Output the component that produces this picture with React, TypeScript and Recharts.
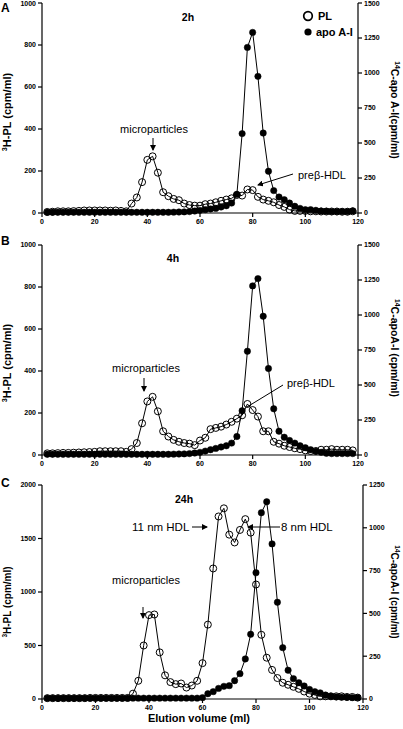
import React from "react";
import { ComposedChart, Line, XAxis, YAxis, Legend } from "recharts";

// elution volume of each fraction (ml)
const volumes = [
  2, 4, 6, 8, 10, 12, 14, 16, 18, 20, 22, 24, 26, 28, 30, 32, 34, 36, 38, 40,
  42, 44, 46, 48, 50, 52, 54, 56, 58, 60, 62, 64, 66, 68, 70, 72, 74, 76, 78, 80,
  82, 84, 86, 88, 90, 92, 94, 96, 98, 100, 102, 104, 106, 108, 110, 112, 114, 116, 118,
];

// panel A - 2h
const pl2h = [
  5, 6, 8, 8, 8, 9, 10, 12, 12, 12, 12, 12, 11, 12, 10, 8, 45, 74, 147, 253,
  270, 192, 99, 80, 67, 61, 45, 38, 35, 35, 42, 45, 51, 58, 64, 70, 86, 83, 112, 109,
  77, 64, 58, 51, 38, 29, 16, 10, 10, 10, 8, 8, 7, 7, 7, 7, 6, 6, 8,
];
const apo2h = [
  5, 5, 5, 5, 5, 5, 5, 5, 5, 5, 5, 5, 5, 5, 5, 5, 5, 5, 5, 5,
  5, 5, 5, 5, 6, 7, 8, 10, 14, 19, 24, 29, 33, 43, 52, 71, 133, 567, 1183, 1290,
  976, 571, 298, 160, 114, 95, 71, 48, 33, 24, 24, 19, 14, 12, 10, 10, 10, 10, 15,
];

// panel B - 4h
const pl4h = [
  8, 8, 9, 10, 10, 11, 12, 13, 14, 15, 18, 18, 18, 18, 18, 15, 28, 57, 151, 255,
  277, 208, 113, 88, 72, 63, 57, 54, 47, 69, 82, 123, 129, 135, 145, 158, 173, 189, 243, 214,
  183, 113, 113, 63, 54, 44, 38, 32, 28, 22, 19, 19, 25, 25, 28, 25, 25, 25, 22,
];
const apo4h = [
  5, 5, 5, 5, 5, 5, 5, 5, 5, 5, 5, 5, 5, 5, 5, 5, 5, 5, 5, 5,
  5, 5, 5, 5, 6, 7, 8, 10, 14, 19, 28, 38, 47, 57, 66, 85, 132, 316, 741, 1208,
  1260, 991, 618, 330, 170, 127, 104, 85, 66, 52, 38, 28, 19, 12, 10, 10, 10, 10, 10,
];

// panel C - 24h
const pl24h = [
  8, 8, 8, 8, 8, 8, 8, 8, 10, 10, 10, 10, 10, 10, 10, 10, 50, 170, 500, 784,
  790, 436, 221, 158, 139, 145, 107, 126, 170, 335, 695, 1220, 1706, 1782, 1536, 1463, 1580, 1681, 1555, 1070,
  600, 386, 272, 196, 152, 133, 114, 95, 70, 50, 38, 25, 25, 25, 25, 25, 19, 19, 13,
];
const apo24h = [
  5, 5, 5, 5, 5, 5, 5, 5, 5, 5, 5, 5, 5, 5, 5, 5, 5, 5, 5, 5,
  5, 5, 5, 5, 5, 5, 5, 5, 5, 8, 31, 43, 62, 74, 78, 107, 148, 234, 378, 738,
  1088, 1152, 906, 565, 300, 168, 119, 95, 76, 56, 43, 36, 23, 16, 12, 10, 10, 8, 8,
];

const xTicks = [0, 20, 40, 60, 80, 100, 120];
const plTicksAB = [0, 200, 400, 600, 800, 1000];
const apoTicksAB = [0, 250, 500, 750, 1000, 1250, 1500];
const plTicksC = [0, 500, 1000, 1500, 2000];
const apoTicksC = [0, 250, 500, 750, 1000, 1250];

type Row = { vol: number; pl: number; apo: number };

const rows = (pl: number[], apo: number[]): Row[] =>
  volumes.map((v, i) => ({ vol: v, pl: pl[i], apo: apo[i] }));

const tickStyle = { fontSize: 7, fontWeight: "bold", fill: "#000" };

function LegendBox() {
  return (
    <div style={{ fontSize: 11, fontWeight: "bold", color: "#000" }}>
      <div style={{ display: "flex", alignItems: "center", height: 16 }}>
        <svg width={14} height={14}>
          <circle cx={7} cy={7} r={4.3} fill="none" stroke="#000" strokeWidth={1.7} />
        </svg>
        <span style={{ marginLeft: 3 }}>PL</span>
      </div>
      <div style={{ display: "flex", alignItems: "center", height: 16 }}>
        <svg width={14} height={14}>
          <circle cx={7} cy={7} r={3.6} fill="#000" />
        </svg>
        <span style={{ marginLeft: 1 }}>apo A-I</span>
      </div>
    </div>
  );
}

type PanelProps = {
  data: Row[];
  top: number;
  height: number;
  marginTop: number;
  xAxisHeight: number;
  rightWidth: number;
  plDomain: [number, number];
  plTicks: number[];
  apoDomain: [number, number];
  apoTicks: number[];
  legend?: boolean;
  children?: React.ReactNode;
};

function Panel(p: PanelProps) {
  return (
    <div style={{ position: "absolute", left: 0, top: p.top, width: 403, height: p.height }}>
      <ComposedChart
        width={403}
        height={p.height}
        data={p.data}
        margin={{ top: p.marginTop, right: 0, bottom: 0, left: 0 }}
      >
        <XAxis
          dataKey="vol"
          type="number"
          domain={[0, 120]}
          ticks={xTicks}
          height={p.xAxisHeight}
          stroke="#000"
          strokeWidth={1.2}
          tickSize={4}
          tick={tickStyle}
          interval={0}
        />
        <YAxis
          yAxisId="pl"
          domain={p.plDomain}
          ticks={p.plTicks}
          width={42}
          stroke="#000"
          strokeWidth={1.2}
          tickSize={4}
          tick={tickStyle}
          interval={0}
        />
        <YAxis
          yAxisId="apo"
          orientation="right"
          domain={p.apoDomain}
          ticks={p.apoTicks}
          width={p.rightWidth}
          stroke="#000"
          strokeWidth={1.2}
          tickSize={4}
          tick={tickStyle}
          interval={0}
        />
        {p.legend && (
          <Legend
            layout="vertical"
            align="center"
            verticalAlign="middle"
            wrapperStyle={{ top: 8, left: 301, width: 80 }}
            content={() => <LegendBox />}
          />
        )}
        <Line
          yAxisId="pl"
          dataKey="pl"
          stroke="#000"
          strokeWidth={1}
          dot={{ r: 3.5, fill: "none", stroke: "#000", strokeWidth: 1 }}
          isAnimationActive={false}
        />
        <Line
          yAxisId="apo"
          dataKey="apo"
          stroke="#000"
          strokeWidth={1}
          dot={{ r: 3.2, fill: "#000", stroke: "#000", strokeWidth: 0.5 }}
          isAnimationActive={false}
        />
      </ComposedChart>
      <svg
        width={403}
        height={p.height}
        fill="#000"
        style={{ position: "absolute", left: 0, top: 0, pointerEvents: "none", overflow: "visible" }}
      >
        {p.children}
      </svg>
    </div>
  );
}

const Arrow = ({ id }: { id: string }) => (
  <defs>
    <marker id={id} markerWidth={6} markerHeight={6} refX={5} refY={3} orient="auto">
      <path d="M0,0 L6,3 L0,6 z" fill="#000" />
    </marker>
  </defs>
);

function LeftLabel({ y, size = 11 }: { y: number; size?: number }) {
  return (
    <text transform={`translate(11,${y}) rotate(-90)`} textAnchor="middle" fontSize={size} fontWeight="bold" fill="#000">
      <tspan fontSize={size * 0.65} dy={-4}>3</tspan>
      <tspan dy={4}>H-PL (cpm/ml)</tspan>
    </text>
  );
}

function RightLabel({ y, text, size = 11 }: { y: number; text: string; size?: number }) {
  return (
    <text transform={`translate(391,${y}) rotate(90)`} textAnchor="middle" fontSize={size} fontWeight="bold" fill="#000">
      <tspan fontSize={size * 0.65} dy={-4}>14</tspan>
      <tspan dy={4}>{text}</tspan>
    </text>
  );
}

export default function App() {
  return (
    <div
      style={{
        position: "relative",
        width: 403,
        height: 729,
        background: "#fff",
        fontFamily: "'Liberation Sans', Arial, sans-serif",
      }}
    >
      <style>{"body{margin:0}"}</style>

      <Panel
        data={rows(pl2h, apo2h)}
        top={0}
        height={235}
        marginTop={3}
        xAxisHeight={22}
        rightWidth={45}
        plDomain={[0, 1000]}
        plTicks={plTicksAB}
        apoDomain={[0, 1500]}
        apoTicks={apoTicksAB}
        legend
      >
        <Arrow id="arrA" />
        <text x={1} y={12} fontSize={12} fontWeight="bold" fill="#000">A</text>
        <LeftLabel y={112} />
        <RightLabel y={110} text="C-apo A-I(cpm/ml)" size={10.5} />
        <text x={188} y={21} textAnchor="middle" fontSize={10.5} fontWeight="bold" fill="#000">2h</text>
        <text x={154} y={133} textAnchor="middle" fontSize={11} fill="#000">microparticles</text>
        <line x1={153} y1={138} x2={153} y2={150} stroke="#000" strokeWidth={1} markerEnd="url(#arrA)" />
        <text x={298} y={179} fontSize={11} fill="#000">preβ-HDL</text>
        <line x1={293} y1={174} x2={258} y2={185} stroke="#000" strokeWidth={1} markerEnd="url(#arrA)" />
      </Panel>

      <Panel
        data={rows(pl4h, apo4h)}
        top={235}
        height={235}
        marginTop={10}
        xAxisHeight={15}
        rightWidth={45}
        plDomain={[0, 1000]}
        plTicks={plTicksAB}
        apoDomain={[0, 1500]}
        apoTicks={apoTicksAB}
      >
        <Arrow id="arrB" />
        <text x={1} y={10} fontSize={12} fontWeight="bold" fill="#000">B</text>
        <LeftLabel y={128} />
        <RightLabel y={113} text="C-apoA-I (cpm/ml)" size={10.5} />
        <text x={173} y={27} textAnchor="middle" fontSize={10.5} fontWeight="bold" fill="#000">4h</text>
        <text x={146} y={137} textAnchor="middle" fontSize={11} fill="#000">microparticles</text>
        <line x1={144} y1={143} x2={144} y2={156} stroke="#000" strokeWidth={1} markerEnd="url(#arrB)" />
        <text x={287} y={152} fontSize={11} fill="#000">preβ-HDL</text>
        <line x1={283} y1={150} x2={247} y2={172} stroke="#000" strokeWidth={1} />
      </Panel>

      <Panel
        data={rows(pl24h, apo24h)}
        top={470}
        height={259}
        marginTop={15}
        xAxisHeight={30}
        rightWidth={40}
        plDomain={[0, 2000]}
        plTicks={plTicksC}
        apoDomain={[0, 1250]}
        apoTicks={apoTicksC}
      >
        <Arrow id="arrC" />
        <text x={1} y={17} fontSize={12} fontWeight="bold" fill="#000">C</text>
        <LeftLabel y={132} size={10} />
        <RightLabel y={122} text="C-apoA-I (cpm/ml)" size={10} />
        <text x={184} y={33} textAnchor="middle" fontSize={10.5} fontWeight="bold" fill="#000">24h</text>
        <text x={146} y={114} textAnchor="middle" fontSize={11} fill="#000">microparticles</text>
        <line x1={143} y1={137} x2={143} y2={148} stroke="#000" strokeWidth={1} markerEnd="url(#arrC)" />
        <text x={132} y={61} fontSize={11.5} fill="#000">11 nm HDL</text>
        <line x1={192} y1={57} x2={207} y2={57} stroke="#000" strokeWidth={1} markerEnd="url(#arrC)" />
        <text x={281} y={61} fontSize={11.5} fill="#000">8 nm HDL</text>
        <line x1={280} y1={57} x2={248} y2={57} stroke="#000" strokeWidth={1} markerEnd="url(#arrC)" />
        <text x={199} y={252} textAnchor="middle" fontSize={11} fontWeight="bold" fill="#000">Elution volume (ml)</text>
      </Panel>
    </div>
  );
}
